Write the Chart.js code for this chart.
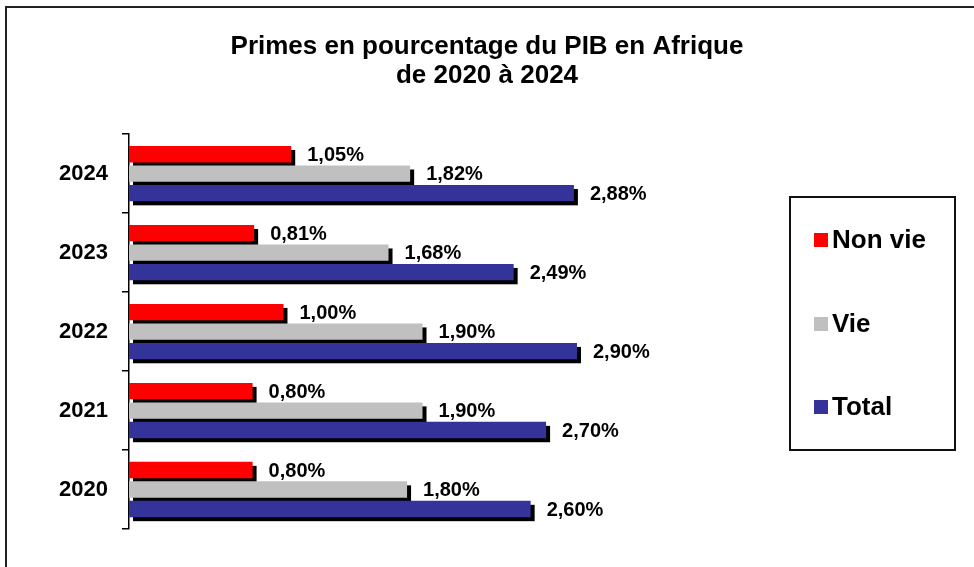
<!DOCTYPE html>
<html>
<head>
<meta charset="utf-8">
<script src="https://cdn.jsdelivr.net/npm/chart.js@4/dist/chart.umd.min.js"></script>
<style>
  body { margin: 0; background: #fff; }
</style>
</head>
<body>
<canvas id="MyChart" width="974" height="567"></canvas>
<script>
const years = ['2024', '2023', '2022', '2021', '2020'];

const nonVie = [1.05, 0.81, 1.00, 0.80, 0.80];
const vie = [1.82, 1.68, 1.90, 1.90, 1.80];
const total = [2.88, 2.49, 2.90, 2.70, 2.60];

const titleLines = ['Primes en pourcentage du PIB en Afrique', 'de 2020 à 2024'];

const fontFam = "'Liberation Sans', Arial, sans-serif";

function fmt(v) {
  return v.toFixed(2).replace('.', ',') + '%';
}

// black drop shadow behind every bar
const shadowPlugin = {
  id: 'shadows',
  beforeDatasetsDraw(chart) {
    const ctx = chart.ctx;
    ctx.save();
    ctx.fillStyle = '#000';
    chart.data.datasets.forEach((ds, i) => {
      chart.getDatasetMeta(i).data.forEach(bar => {
        const h = bar.height;
        ctx.fillRect(bar.base + 4, bar.y - h / 2 + 4, bar.x - bar.base, h);
      });
    });
    ctx.restore();
  }
};

// value labels at the bar ends
const labelPlugin = {
  id: 'valueLabels',
  afterDatasetsDraw(chart) {
    const ctx = chart.ctx;
    ctx.save();
    ctx.font = 'bold 20px ' + fontFam;
    ctx.fillStyle = '#000';
    ctx.textBaseline = 'middle';
    ctx.textAlign = 'left';
    chart.data.datasets.forEach((ds, i) => {
      chart.getDatasetMeta(i).data.forEach((bar, j) => {
        ctx.fillText(fmt(ds.data[j]), bar.x + 16, bar.y + 1);
      });
    });
    ctx.restore();
  }
};

// outer frame + boxed legend on the right
const framePlugin = {
  id: 'frame',
  beforeDraw(chart) {
    const ctx = chart.ctx;
    ctx.save();
    ctx.strokeStyle = '#222';
    ctx.lineWidth = 2;
    ctx.strokeRect(6, 7, 2000, 2000);
    ctx.restore();
  },
  afterDraw(chart) {
    const ctx = chart.ctx;
    ctx.save();
    ctx.fillStyle = '#fff';
    ctx.fillRect(790, 197, 165, 253);
    ctx.strokeStyle = '#111';
    ctx.lineWidth = 2;
    ctx.strokeRect(790, 197, 165, 253);
    ctx.font = 'bold 26px ' + fontFam;
    ctx.textBaseline = 'middle';
    ctx.textAlign = 'left';
    const ys = [240, 324, 407];
    chart.data.datasets.forEach((ds, i) => {
      ctx.fillStyle = ds.backgroundColor;
      ctx.fillRect(814, ys[i] - 7, 14, 14);
      ctx.fillStyle = '#000';
      ctx.fillText(ds.label, 832, ys[i] + 1);
    });
    ctx.restore();
  }
};

const data = {
  labels: years,
  datasets: [
    { label: 'Non vie', data: nonVie, backgroundColor: '#FF0000' },
    { label: 'Vie', data: vie, backgroundColor: '#C0C0C0' },
    { label: 'Total', data: total, backgroundColor: '#333399' }
  ]
};

const config = {
  type: 'bar',
  data: data,
  options: {
    indexAxis: 'y',
    responsive: false,
    animation: false,
    categoryPercentage: 0.74,
    barPercentage: 0.84,
    layout: { padding: { left: 0, right: 0, top: 0, bottom: 38 } },
    plugins: {
      legend: { display: false },
      tooltip: { enabled: false },
      title: {
        display: true,
        text: titleLines,
        color: '#000',
        font: { family: fontFam, size: 26, weight: 'bold', lineHeight: 1.1 },
        padding: { top: 33, bottom: 44 }
      }
    },
    scales: {
      x: {
        display: false,
        min: 0,
        max: 5.47
      },
      y: {
        afterFit(scale) { scale.width = 129; },
        border: { display: true, color: '#000', width: 1.5 },
        grid: {
          display: true,
          drawOnChartArea: false,
          drawTicks: true,
          tickLength: 7,
          color: '#000',
          lineWidth: 1.5,
          offset: true
        },
        ticks: {
          color: '#000',
          padding: 14,
          font: { family: fontFam, size: 22, weight: 'bold' }
        }
      }
    }
  },
  plugins: [shadowPlugin, labelPlugin, framePlugin]
};

const myChart = new Chart(document.getElementById('MyChart'), config);
</script>
</body>
</html>
